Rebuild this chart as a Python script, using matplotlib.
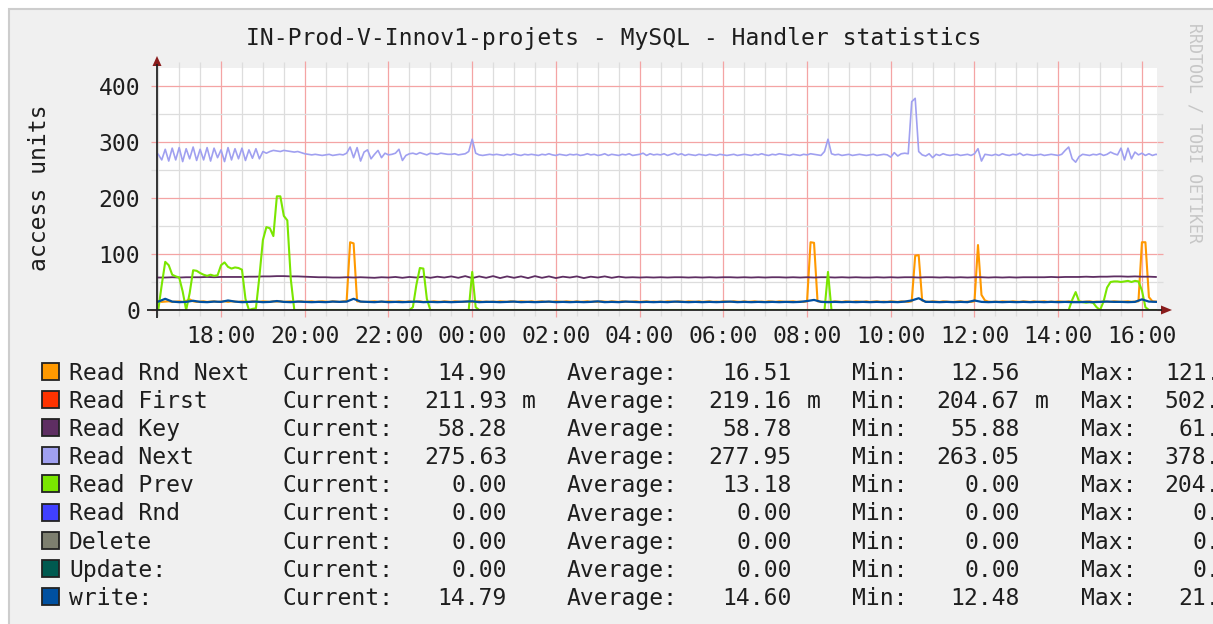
import matplotlib
matplotlib.use("Agg")
import matplotlib.pyplot as plt
from matplotlib.patches import Rectangle, Polygon
import numpy as np

# ---- data (5-min samples from 16:30, 10-min samples from 16:30) ----
t5 = 16.5 + np.arange(288) / 12.0
t10 = 16.5 + np.arange(144) / 6.0

read_next = [
    278, 268, 287, 266, 289, 268, 290, 265, 288, 270, 291, 267,
    287, 268, 290, 266, 289, 272, 286, 265, 290, 268, 288, 270,
    289, 267, 286, 271, 288, 270, 283, 280, 283, 285, 284, 283,
    285, 284, 283, 282, 283, 281, 279, 278, 277, 278, 277, 276,
    277, 278, 276, 277, 278, 277, 280, 291, 272, 290, 266, 282,
    286, 270, 278, 285, 272, 280, 277, 278, 280, 287, 267, 276,
    279, 280, 278, 281, 279, 277, 280, 279, 278, 280, 279, 278,
    278, 279, 277, 278, 279, 283, 305, 280, 277, 276, 277, 278,
    277, 278, 277, 276, 278, 277, 279, 277, 276, 278, 277, 278,
    277, 276, 278, 277, 279, 277, 276, 278, 277, 276, 278, 277,
    278, 276, 277, 279, 277, 278, 276, 277, 279, 276, 278, 277,
    276, 278, 277, 279, 276, 277, 278, 280, 276, 279, 277, 278,
    277, 279, 276, 278, 280, 277, 279, 276, 278, 277, 276, 278,
    277, 276, 278, 277, 276, 278, 277, 276, 277, 278, 276, 277,
    278, 277, 276, 278, 277, 279, 277, 276, 278, 277, 279, 278,
    277, 276, 278, 277, 276, 278, 277, 279, 278, 277, 276, 283,
    305, 279, 277, 278, 276, 277, 278, 276, 277, 278, 277, 276,
    277, 278, 276, 277, 278, 277, 273, 281, 275, 279, 280, 279,
    372, 378, 283, 277, 275, 279, 272, 278, 276, 279, 277, 276,
    277, 278, 276, 277, 278, 276, 279, 288, 266, 278, 277, 276,
    278, 276, 279, 277, 276, 278, 277, 280, 276, 278, 277, 276,
    277, 278, 276, 277, 278, 277, 276, 278, 285, 291, 270, 264,
    274, 278, 277, 276, 278, 277, 279, 276, 278, 282, 279, 277,
    289, 268, 289, 270, 282, 277, 280, 276, 279, 276, 278, 277,
]

read_rnd_next = [
    15.5, 14.5, 15, 15.5, 14.5, 15, 15.5, 14.5, 16, 19, 15.5, 14.5,
    15, 15.5, 14.5, 15, 15.5, 14.5, 15, 15.5, 14.5, 15.5, 15, 14.5,
    15.5, 15, 14.5, 15.5, 15, 14.5, 15.5, 15, 14.5, 15.5, 15, 15.5,
    14.5, 15, 15.5, 14.5, 15, 15.5, 14.5, 15, 15.5, 14.5, 15, 15.5,
    15, 14.5, 15.5, 15, 14.5, 15.5, 15.5, 121, 119, 15.5, 15, 14.5,
    14.5, 15, 15.5, 14.5, 15, 14.5, 15.5, 15, 14.5, 15.5, 15, 14.5,
    15.5, 14.5, 15, 15.5, 14.5, 15, 14.5, 15.5, 15, 14.5, 15.5, 15,
    14.5, 15.5, 15, 14.5, 15, 15.5, 14.5, 15, 15.5, 14.5, 15, 14.5,
    15, 14.5, 15.5, 15, 14.5, 15.5, 15, 14.5, 15.5, 15, 14.5, 15.5,
    14.5, 15, 15.5, 14.5, 15, 14.5, 15.5, 15, 14.5, 15.5, 15, 14.5,
    15.5, 14.5, 15, 15.5, 14.5, 15, 14.5, 15.5, 15, 14.5, 15.5, 15,
    14.5, 15.5, 15, 14.5, 15, 15.5, 14.5, 15, 15.5, 14.5, 15, 14.5,
    15, 14.5, 15.5, 15, 14.5, 15.5, 15, 14.5, 15.5, 15, 14.5, 15.5,
    14.5, 15, 15.5, 14.5, 15, 14.5, 15.5, 15, 14.5, 15.5, 15, 14.5,
    15.5, 14.5, 15, 15.5, 14.5, 15, 14.5, 15.5, 15, 14.5, 15.5, 15,
    14.5, 15, 15.5, 14.5, 15, 14.5, 15.5, 121, 120, 15.5, 15, 14.5,
    15, 14.5, 15.5, 15, 14.5, 15.5, 15, 14.5, 15.5, 15, 14.5, 15.5,
    14.5, 15, 15.5, 14.5, 15, 14.5, 15.5, 15, 14.5, 15.5, 15, 14.5,
    15.5, 97, 98, 17, 15, 14.5, 15.5, 15, 14.5, 15.5, 15, 14.5,
    14.5, 15, 15.5, 14.5, 15, 14.5, 15.5, 116, 27, 17, 15, 14.5,
    15, 14.5, 15.5, 15, 14.5, 15.5, 15, 14.5, 15.5, 15, 14.5, 15.5,
    14.5, 15, 15.5, 14.5, 15, 14.5, 15.5, 15, 14.5, 15.5, 15, 14.5,
    15.5, 14.5, 15, 15.5, 14.5, 15, 14.5, 15.5, 15, 14.5, 15.5, 15,
    14.5, 15, 15.5, 14.5, 15, 15.5, 121, 121, 23, 15.5, 15, 14.5,
]

read_prev = (
    [0, 45, 86, 80, 63, 60, 58, 33, 0, 30, 71, 70]
    + [66, 63, 61, 63, 61, 62, 80, 85, 77, 74, 76, 75]
    + [72, 20, 0, 2, 3, 60, 125, 148, 146, 132, 203, 203]
    + [168, 160, 55, 0, 0, 0, 0, 0, 0, 0, 0, 0]
    + [0] * 12 + [0] * 12
    + [0, 5, 45, 75, 74, 20, 0, 0, 0, 0, 0, 0]
    + [0, 0, 0, 0, 0, 0, 68, 5, 0, 0, 0, 0]
    + [0] * 12 * 8
    + [68, 0, 0, 0, 0, 0, 0, 0, 0, 0, 0, 0]
    + [0] * 12 * 4
    + [0, 0, 0, 0, 0, 0, 0, 0, 0, 0, 18, 32]
    + [15, 14, 13, 14, 13, 5, 0, 15, 40, 50, 51, 51]
    + [50, 51, 52, 50, 52, 51, 35, 5, 0, 0, 0, 0]
)

read_key = [
    58, 58, 58.5, 58, 58.5, 58.5,
    58.5, 59, 58.5, 59, 59, 59,
    59, 59.5, 59.5, 60, 60, 60.5,
    60.5, 60, 60, 59.5, 59, 58.5,
    58.5, 58, 58, 58.5, 58, 58.5,
    58, 57.5, 58.5, 58, 59, 57.5,
    59, 58, 59.5, 57.5, 59.5, 58,
    60, 57.5, 60.5, 57, 60, 57.5,
    60.5, 57, 60, 57.5, 60, 57,
    60.5, 57.5, 60, 57, 59.5, 58,
    60, 57, 59.5, 58, 60, 57.5,
    59.5, 58, 58.5, 58, 58.5, 58,
    58.5, 58, 58.5, 58.5, 58, 58.5,
    58, 58.5, 58, 58.5, 58.5, 58,
    58.5, 58, 58.5, 58, 58.5, 58.5,
    58, 58.5, 58, 58.5, 58, 58.5,
    58.5, 58, 58.5, 58, 58.5, 58,
    58, 58.5, 58, 58.5, 58, 58.5,
    58.5, 58, 58.5, 58.5, 58, 58.5,
    58, 58.5, 58, 58.5, 58.5, 58,
    58.5, 58, 58.5, 58, 58.5, 58.5,
    58.5, 58.5, 59, 58.5, 59, 59,
    59, 59.5, 59, 59.5, 59.5, 60,
    60, 59.5, 60, 59.5, 59.5, 59,
]

write = [
    15, 20, 15, 14, 14.5, 16.5,
    14.5, 14, 15, 14.5, 17, 15,
    14, 14.5, 15, 14, 14.5, 16,
    14.5, 14, 15, 14.5, 14, 14.5,
    14, 15, 14.5, 15, 20, 15,
    14.5, 14, 15, 14, 14.5, 14,
    14.5, 15, 14, 14.5, 14, 14.5,
    14, 14.5, 15, 15.5, 14, 14.5,
    14.5, 14, 14.5, 15, 14, 14.5,
    14, 14.5, 15, 14, 14.5, 14,
    14.5, 14, 14.5, 15.5, 14, 14.5,
    14, 15, 14.5, 14, 14.5, 14,
    14.5, 14, 15, 14.5, 14, 14.5,
    14, 14.5, 14, 14.5, 15, 14,
    14.5, 14, 14.5, 14, 14.5, 14,
    14.5, 14, 14.5, 16, 18, 14.5,
    14, 14.5, 14, 14.5, 14, 14.5,
    14, 14.5, 14, 14.5, 14, 15,
    17, 21, 14.5, 14.5, 14, 14.5,
    14, 14.5, 14, 17, 14.5, 14,
    14.5, 14, 14.5, 14, 14.5, 14,
    14.5, 14, 14.5, 14, 14.5, 14,
    14, 14.5, 14, 14.5, 15, 14.5,
    14.5, 14, 14.5, 19, 15, 14.5,
]

x_major = list(range(18, 41, 2))
x_labels = ["18:00", "20:00", "22:00", "00:00", "02:00", "04:00",
            "06:00", "08:00", "10:00", "12:00", "14:00", "16:00"]
y_major = [0, 100, 200, 300, 400]
y_minor = [50, 150, 250, 350]

names = ["Read Rnd Next", "Read First", "Read Key", "Read Next", "Read Prev",
         "Read Rnd", "Delete", "Update:", "write:"]
cur = ["14.90", "211.93 m", "58.28", "275.63", "0.00", "0.00", "0.00", "0.00", "14.79"]
avg = ["16.51", "219.16 m", "58.78", "277.95", "13.18", "0.00", "0.00", "0.00", "14.60"]
mins = ["12.56", "204.67 m", "55.88", "263.05", "0.00", "0.00", "0.00", "0.00", "12.48"]
maxs = ["121.48", "502.35 m", "61.42", "378.27", "204.33", "0.00", "0.00", "0.00", "21.36"]

colors = ["#ff9900", "#ff3300", "#5e2e62", "#a0a0f0", "#7ae600",
          "#4040ff", "#7d7f6f", "#005a50", "#0050a0"]

title = "IN-Prod-V-Innov1-projets - MySQL - Handler statistics"

# ---- layout (pixels) ----
W, H = 1213, 624
PL, PR, PB, PT = 157, 1157, 310, 68
MONO = "DejaVu Sans Mono"
FS = 16.6
TXT = "#1e1e1e"

fig = plt.figure(figsize=(W / 100, H / 100), dpi=100)
fig.patch.set_facecolor("white")

bg = fig.add_axes([0, 0, 1, 1], zorder=0)
bg.set_xlim(0, W)
bg.set_ylim(H, 0)
bg.axis("off")
bg.add_patch(Rectangle((9, 9), W, H, facecolor="#f0f0f0", edgecolor="#cdcdcd", lw=1.5))

ax = fig.add_axes([PL / W, 1 - PB / H, (PR - PL) / W, (PB - PT) / H], zorder=1)
ax.set_xlim(16.47, 40.36)
ax.set_ylim(0, (PB - PT) / 0.56)
ax.set_facecolor("white")
for s in ax.spines.values():
    s.set_visible(False)

ax.set_xticks(x_major)
ax.set_xticklabels(x_labels)
ax.set_xticks([h for h in np.arange(16.5, 40.4, 0.5) if h % 2 != 0], minor=True)
ax.set_yticks(y_major)
ax.set_yticks(y_minor, minor=True)
ax.grid(which="minor", color="#dddddd", lw=0.9)
ax.grid(which="major", color="#f4a4a4", lw=0.9)
ax.tick_params(which="major", axis="x", color="#f4a4a4", length=5, width=0.9,
               pad=5.5, top=True, labelsize=FS, labelcolor=TXT)
ax.tick_params(which="minor", axis="x", color="#dddddd", length=4, width=0.9, top=True)
ax.tick_params(which="major", axis="y", color="#f4a4a4", length=4, width=0.9,
               pad=8, right=True, labelsize=FS, labelcolor=TXT)
ax.tick_params(which="minor", axis="y", color="#dddddd", length=4, width=0.9, right=True)
for lab in ax.get_xticklabels() + ax.get_yticklabels():
    lab.set_family(MONO)

ax.plot(t5, read_rnd_next, color=colors[0], lw=1.5)
ax.plot(t10, read_key, color=colors[2], lw=1.3)
ax.plot(t5, read_next, color=colors[3], lw=1.2)
ax.plot(t5, read_prev, color=colors[4], lw=1.5)
ax.plot(t10, write, color=colors[8], lw=1.6)

fg = fig.add_axes([0, 0, 1, 1], zorder=2)
fg.set_xlim(0, W)
fg.set_ylim(H, 0)
fg.axis("off")
fg.patch.set_alpha(0)

# axes with arrows
fg.plot([147, PR + 5], [PB, PB], color="#222222", lw=1.3, solid_capstyle="butt")
fg.plot([PL, PL], [PB + 8, PT - 4], color="#222222", lw=1.3, solid_capstyle="butt")
fg.add_patch(Polygon([(PR + 4, PB - 4.5), (PR + 15, PB), (PR + 4, PB + 4.5)],
                     closed=True, color="#8a1c1c", lw=0))
fg.add_patch(Polygon([(PL - 4.5, PT - 2), (PL, PT - 12), (PL + 4.5, PT - 2)],
                     closed=True, color="#8a1c1c", lw=0))

fg.text(614, 45, title, ha="center", va="baseline", fontsize=FS, family=MONO, color=TXT)
fg.text(46, 188, "access units", ha="center", va="baseline", rotation=90,
        rotation_mode="anchor", fontsize=FS, family=MONO, color=TXT)
fg.text(1190, 23, "RRDTOOL / TOBI OETIKER", ha="left", va="baseline", rotation=-90,
        rotation_mode="anchor", fontsize=12, family=MONO, color="#c6c6c6")

# legend rows
for i, name in enumerate(names):
    yb = 380 + i * 28.1
    fg.add_patch(Rectangle((41.5, yb - 17), 17, 17, facecolor=colors[i],
                           edgecolor="#222222", lw=1.3))
    fg.text(69, yb, name, ha="left", va="baseline", fontsize=FS, family=MONO, color=TXT)
    cols = [("Current:", 283, cur[i], 507), ("Average:", 567, avg[i], 791.5),
            ("Min:", 852, mins[i], 1019.5), ("Max:", 1080.5, maxs[i], 1248)]
    for lab, xl, val, xr in cols:
        fg.text(xl, yb, lab, ha="left", va="baseline", fontsize=FS, family=MONO, color=TXT)
        parts = val.split(" ")
        fg.text(xr, yb, parts[0], ha="right", va="baseline", fontsize=FS, family=MONO, color=TXT)
        if len(parts) > 1:
            fg.text(xr + 15, yb, parts[1], ha="left", va="baseline", fontsize=FS,
                    family=MONO, color=TXT)

fig.savefig("out.png", dpi=100)
